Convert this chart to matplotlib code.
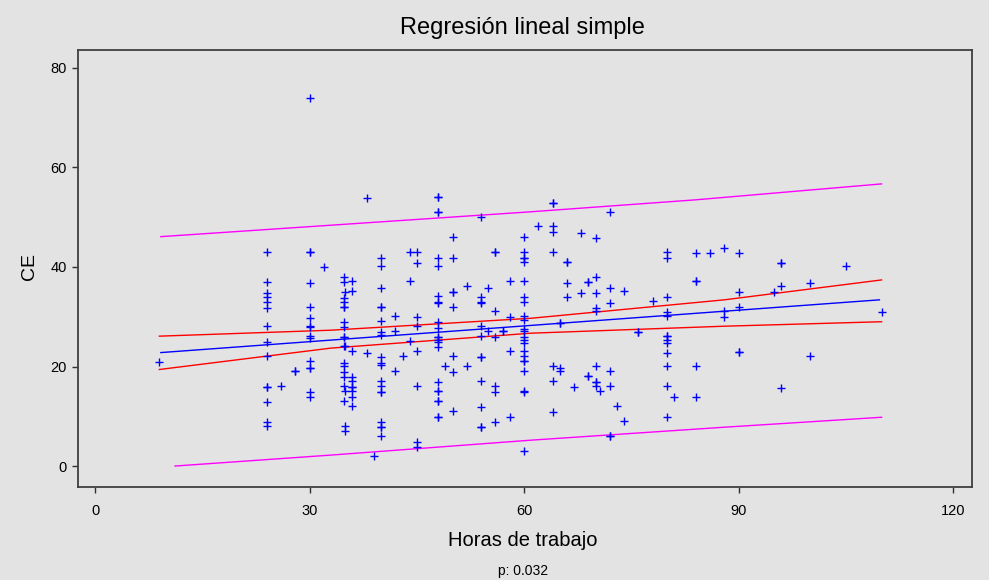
import matplotlib
matplotlib.use("Agg")
import matplotlib.pyplot as plt

plt.rcParams['font.family'] = ['Liberation Sans', 'DejaVu Sans']

# puntos (horas de trabajo, CE)
horas = ([9] +
         [24] * 14 + [26, 28, 28] +
         [30] * 15 + [32] +
         [34.8] * 17 + [35] * 5 + [36] * 10 +
         [38, 38, 39] +
         [40] * 19 + [42] * 3 + [43] + [44] * 3 + [45] * 8 +
         [48] * 23 + [49] + [50] * 8 + [52] * 2 + [54] * 12 + [55] * 2 +
         [56] * 7 + [57] * 2 + [58] * 4 +
         [60] * 23 + [62] + [64] * 8 + [65] * 4 + [66] * 4 + [67] + [68] * 2 +
         [69] * 4 + [70] * 9 + [70.6] + [72] * 7 + [73] + [74] * 2 + [76] * 2 +
         [78] + [80] * 13 + [81] + [84] * 5 + [86] + [88] * 3 + [90] * 5 +
         [95] + [96] * 4 + [100] * 2 + [105] + [110])
ce = ([21] +
      [43.1, 37.0, 34.8, 34.0, 33.0, 31.8, 28.1, 25.0, 22.1, 15.9, 15.9, 12.8, 8.9, 8.0] +
      [16.1, 19.0, 19.0] +
      [73.9, 43.1, 43.1, 36.8, 32.0, 29.8, 28.1, 28.0, 26.1, 25.7, 21.2, 19.8, 19.8, 14.9, 13.9] +
      [40.0] +
      [37.9, 36.9, 33.7, 33.0, 32.0, 32.0, 28.9, 27.9, 26.0, 26.0, 24.1, 20.8, 20.2, 18.8, 17.8, 16.0, 13.1] +
      [35.0, 15.1, 8.1, 7.1, 24.1] +
      [37.1, 35.2, 23.1, 17.8, 17.1, 15.9, 15.9, 15.1, 13.8, 12.1] +
      [53.9, 22.8, 2.1] +
      [41.9, 40.1, 35.8, 32.0, 32.0, 29.1, 27.0, 26.4, 22.0, 20.8, 20.4, 17.1, 16.1, 14.8, 14.8,
       8.9, 7.9, 7.9, 6.0] +
      [30.1, 27.1, 19.1] + [22.1] + [43.1, 37.1, 25.1] +
      [43.1, 40.9, 29.9, 28.1, 23.1, 16.1, 4.9, 3.9] +
      [54.1, 54.1, 51.0, 51.0, 41.9, 40.1, 34.2, 33.0, 32.7, 29.0, 27.8, 26.0, 26.0, 25.4, 25.0,
       23.9, 16.8, 15.1, 15.1, 13.1, 13.1, 9.9, 9.9] +
      [20.1] +
      [46.1, 41.9, 35.0, 35.0, 31.9, 22.1, 18.8, 11.1] +
      [36.1, 20.1] +
      [50.1, 33.9, 33.0, 32.7, 28.1, 26.1, 22.0, 22.0, 17.1, 11.8, 7.8, 7.8] +
      [35.8, 27.1] +
      [43.0, 43.0, 31.2, 26.0, 16.1, 14.8, 8.8] +
      [27.1, 27.1] +
      [37.1, 29.9, 23.1, 9.8] +
      [46.1, 43.1, 41.9, 41.9, 41.1, 37.1, 33.9, 33.0, 30.1, 29.4, 27.5, 27.1, 26.0, 25.3, 24.8,
       23.1, 22.2, 21.2, 21.2, 19.1, 15.1, 14.9, 3.0] +
      [48.2] +
      [52.9, 52.9, 48.2, 47.1, 43.1, 20.1, 17.1, 10.8] +
      [28.8, 28.8, 19.8, 19.0] +
      [41.1, 41.1, 36.8, 34.0] +
      [15.8] + [46.9, 34.8] +
      [37.0, 37.0, 18.0, 18.0] +
      [45.9, 38.0, 34.8, 31.8, 31.1, 20.1, 16.9, 16.9, 16.1] +
      [15.1] +
      [51.1, 35.8, 32.8, 19.1, 16.1, 6.0, 6.0] +
      [12.1] + [35.2, 9.0] + [27.0, 27.0] + [33.2] +
      [43.1, 41.9, 34.0, 31.0, 30.1, 26.1, 26.1, 25.3, 24.8, 22.8, 20.1, 16.1, 9.8] +
      [13.8] +
      [42.9, 37.1, 37.1, 20.1, 13.8] +
      [42.9] + [43.9, 31.2, 30.0] +
      [42.9, 35.0, 32.0, 22.9, 22.9] +
      [35.0] + [40.9, 40.9, 36.1, 15.7] + [36.8, 22.1] + [40.1] + [31.0])

# recta de regresion
fit_x = [9.2, 109.7]
fit_y = [22.8, 33.4]

# intervalo de confianza (rojo)
ic_x = [9, 33, 61, 88, 110]
ic_sup = [26.1, 27.3, 29.7, 33.4, 37.4]
ic_inf = [19.4, 23.7, 26.7, 28.1, 29.0]

# intervalo de prediccion (magenta)
ip_sup_x = [9.2, 33, 61, 84, 110]
ip_sup = [46.1, 48.4, 51.1, 53.5, 56.7]
ip_inf_x = [11.2, 33, 61, 88, 110]
ip_inf = [0.0, 2.2, 5.2, 7.8, 9.8]

bg = '#e3e3e3'
fig = plt.figure(figsize=(9.89, 5.8), dpi=100, facecolor=bg)
ax = fig.add_axes([0.0789, 0.1603, 0.904, 0.7534], facecolor=bg)

ax.plot(ip_sup_x, ip_sup, color='#ff00ff', lw=1.0)
ax.plot(ip_inf_x, ip_inf, color='#ff00ff', lw=1.0)
ax.plot(ic_x, ic_sup, color='#ff0000', lw=1.0)
ax.plot(ic_x, ic_inf, color='#ff0000', lw=1.0)
ax.plot(fit_x, fit_y, color='#0000ff', lw=1.0)
ax.plot(horas, ce, linestyle='none', marker='+', markersize=5.5,
        markeredgewidth=1.0, color='#0000ff')

ax.set_xlim(-2.38, 122.66)
ax.set_ylim(-4.22, 83.6)
ax.set_xticks([0, 30, 60, 90, 120])
ax.set_yticks([0, 20, 40, 60, 80])
ax.tick_params(direction='out', length=4, width=1, colors='#303030',
               labelsize=10.5, labelcolor='black', pad=4)
ax.tick_params(axis='x', pad=8)
for s in ax.spines.values():
    s.set_color('#404040')
    s.set_linewidth(1.3)

fig.text(0.528, 0.952, 'Regresión lineal simple', ha='center', va='center', fontsize=17)
fig.text(0.529, 0.068, 'Horas de trabajo', ha='center', va='center', fontsize=14.5)
fig.text(0.529, 0.016, 'p: 0.032', ha='center', va='center', fontsize=10)
fig.text(0.030, 0.54, 'CE', ha='center', va='center', rotation=90, fontsize=14)

plt.savefig('out.png', dpi=100, facecolor=bg)
